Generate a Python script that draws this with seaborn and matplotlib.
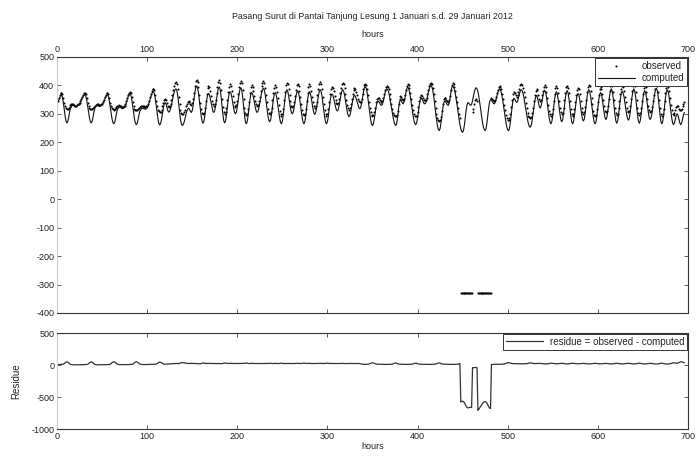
import numpy as np
import matplotlib
matplotlib.use("Agg")
import matplotlib.pyplot as plt
import seaborn as sns

# Hourly sea level, 1 - 29 Jan 2012, one row per day (24 values)
computed = [
    340, 349, 357, 363, 366, 359, 341, 317, 293, 275, 268, 274, 288, 306, 320, 326, 329, 330, 328, 325, 324, 326, 330, 331,
    335, 341, 349, 356, 362, 366, 367, 362, 348, 328, 307, 287, 273, 268, 274, 288, 306, 320, 326, 329, 330, 328, 326, 326,
    329, 331, 336, 344, 352, 360, 365, 367, 362, 348, 327, 305, 284, 270, 265, 270, 284, 301, 315, 320, 323, 324, 322, 319,
    318, 320, 323, 329, 339, 351, 361, 368, 370, 365, 350, 328, 304, 282, 267, 262, 267, 280, 297, 310, 315, 318, 320, 319,
    317, 316, 318, 320, 327, 337, 348, 359, 369, 376, 378, 372, 356, 332, 307, 283, 267, 261, 266, 281, 300, 320, 335, 340,
    335, 323, 311, 306, 309, 318, 331, 347, 363, 376, 385, 388, 382, 364, 338, 309, 281, 265, 259, 262, 270, 283, 296, 309,
    317, 320, 316, 309, 305, 311, 328, 352, 375, 392, 398, 391, 373, 347, 318, 292, 273, 267, 274, 293, 320, 346, 365, 372,
    368, 355, 339, 322, 309, 305, 311, 328, 350, 373, 389, 395, 387, 363, 332, 300, 276, 268, 275, 296, 323, 351, 371, 378,
    373, 358, 339, 320, 305, 300, 306, 323, 346, 369, 386, 392, 384, 360, 329, 297, 273, 265, 272, 293, 320, 348, 368, 375,
    370, 357, 340, 323, 310, 305, 309, 321, 338, 357, 374, 386, 390, 384, 368, 344, 318, 294, 278, 272, 279, 298, 324, 349,
    368, 375, 370, 354, 332, 308, 286, 270, 265, 273, 295, 325, 355, 377, 385, 379, 364, 343, 321, 306, 300, 305, 320, 340,
    360, 375, 380, 374, 358, 335, 310, 287, 271, 265, 273, 293, 322, 350, 370, 378, 373, 358, 338, 318, 303, 298, 304, 320,
    342, 363, 379, 385, 379, 362, 338, 312, 288, 271, 265, 272, 291, 318, 344, 363, 370, 366, 355, 340, 325, 314, 310, 315,
    329, 348, 366, 380, 385, 380, 367, 348, 327, 308, 295, 290, 295, 309, 328, 346, 360, 365, 362, 353, 342, 330, 321, 318,
    323, 338, 357, 377, 391, 396, 391, 376, 354, 328, 301, 279, 264, 259, 265, 281, 302, 324, 339, 345, 343, 338, 332, 330,
    334, 345, 359, 374, 384, 388, 385, 376, 361, 343, 324, 304, 286, 271, 262, 259, 268, 290, 319, 341, 350, 346, 339, 335,
    341, 355, 374, 388, 394, 390, 379, 361, 339, 317, 295, 277, 266, 262, 268, 285, 308, 332, 349, 355, 352, 345, 338, 335,
    338, 347, 360, 375, 388, 397, 400, 395, 381, 360, 334, 307, 281, 260, 246, 241, 248, 267, 293, 319, 338, 345, 343, 338,
    332, 330, 336, 353, 375, 392, 398, 395, 385, 370, 350, 328, 305, 283, 263, 248, 238, 235, 242, 261, 288, 314, 333, 340,
    337, 332, 330, 334, 346, 361, 377, 388, 392, 388, 378, 361, 340, 317, 293, 272, 255, 245, 241, 248, 268, 296, 323, 343,
    350, 348, 343, 338, 335, 339, 348, 362, 375, 385, 388, 384, 374, 358, 337, 315, 292, 271, 254, 244, 241, 249, 270, 298,
    327, 348, 355, 351, 344, 340, 344, 356, 369, 381, 385, 382, 372, 358, 339, 319, 299, 280, 266, 256, 253, 259, 274, 297,
    321, 344, 359, 365, 358, 342, 327, 320, 326, 342, 361, 377, 383, 377, 361, 337, 311, 287, 271, 265, 273, 293, 322, 350,
    370, 378, 371, 352, 325, 299, 279, 272, 279, 300, 327, 355, 375, 382, 374, 353, 324, 294, 273, 265, 272, 292, 319, 345,
    365, 372, 366, 348, 324, 299, 281, 275, 282, 303, 330, 358, 378, 385, 379, 362, 338, 312, 288, 271, 265, 272, 293, 320,
    348, 368, 375, 369, 351, 328, 304, 286, 280, 287, 307, 334, 361, 381, 388, 380, 358, 328, 297, 275, 267, 275, 295, 324,
    352, 372, 380, 375, 361, 340, 318, 297, 283, 278, 285, 306, 333, 361, 381, 388, 380, 358, 328, 297, 275, 267, 275, 296,
    325, 353, 374, 382, 375, 357, 331, 306, 287, 280, 286, 301, 323, 347, 369, 385, 390, 382, 359, 328, 296, 273, 265, 273,
    295, 325, 355, 377, 385, 379, 362, 337, 309, 285, 268, 262, 268, 281, 294, 300, 294, 281, 268, 262, 268, 281, 296, 305,
]

# -330 marks hours with no record from the gauge
observed = [
    346, 356, 365, 372, 375, 370, 356, 338, 326, 320, 317, 318, 321, 325, 330, 333, 334, 333, 331, 329, 328, 330, 333, 336,
    339, 345, 353, 361, 368, 373, 374, 369, 356, 339, 327, 321, 318, 317, 318, 321, 325, 329, 332, 333, 333, 331, 330, 331,
    333, 336, 341, 349, 358, 366, 372, 374, 369, 356, 338, 326, 320, 316, 315, 316, 319, 323, 327, 329, 330, 329, 327, 325,
    325, 326, 329, 335, 345, 357, 368, 375, 378, 373, 359, 340, 326, 318, 314, 312, 313, 316, 320, 324, 326, 327, 327, 326,
    325, 324, 326, 328, 335, 346, 358, 369, 379, 386, 389, 384, 368, 346, 327, 315, 309, 306, 308, 315, 326, 338, 349, 353,
    349, 338, 328, 324, 327, 336, 350, 367, 384, 399, 408, 411, 405, 386, 360, 333, 312, 302, 298, 299, 305, 315, 326, 336,
    342, 344, 340, 334, 331, 337, 352, 375, 398, 414, 420, 412, 394, 367, 338, 316, 302, 298, 304, 320, 344, 370, 390, 398,
    394, 380, 362, 345, 333, 329, 334, 350, 372, 396, 412, 418, 410, 385, 353, 324, 306, 300, 305, 322, 347, 376, 396, 404,
    398, 382, 362, 343, 329, 324, 330, 346, 370, 394, 410, 416, 408, 383, 352, 322, 302, 296, 301, 318, 343, 372, 393, 401,
    396, 381, 363, 346, 333, 328, 332, 344, 361, 381, 398, 410, 414, 408, 391, 366, 340, 318, 304, 300, 305, 322, 347, 373,
    392, 400, 396, 378, 355, 331, 311, 298, 294, 300, 318, 347, 378, 401, 410, 404, 388, 366, 344, 329, 323, 328, 343, 364,
    385, 400, 406, 399, 382, 358, 333, 312, 299, 295, 301, 318, 346, 375, 396, 404, 398, 382, 361, 341, 326, 321, 327, 343,
    366, 388, 404, 411, 404, 386, 361, 335, 313, 299, 294, 300, 316, 343, 369, 388, 396, 391, 379, 363, 348, 337, 333, 338,
    352, 372, 391, 405, 410, 404, 390, 370, 349, 331, 319, 314, 319, 333, 352, 371, 385, 390, 386, 377, 365, 353, 344, 341,
    340, 352, 369, 388, 401, 406, 401, 387, 366, 342, 320, 305, 297, 294, 297, 306, 322, 340, 352, 357, 355, 350, 345, 343,
    346, 356, 369, 383, 393, 398, 395, 386, 371, 354, 336, 318, 304, 296, 292, 291, 295, 310, 334, 353, 362, 358, 351, 347,
    352, 365, 383, 397, 404, 401, 390, 372, 351, 331, 313, 300, 293, 291, 294, 305, 325, 346, 361, 367, 364, 357, 350, 347,
    349, 357, 369, 384, 397, 406, 410, 405, 392, 371, 346, 321, 299, 285, 277, 274, 278, 290, 311, 334, 351, 357, 355, 350,
    344, 342, 347, 363, 384, 401, 408, 405, 395, 380, 361, 340, 319, 300, 286, -330, -330, -330, -330, -330, -330, -330, -330, -330,
    -330, -330, -330, -330, 306, 318, 336, 350, 352, 346, -330, -330, -330, -330, -330, -330, -330, -330, -330, -330, -330, -330, -330, -330,
    -330, 356, 352, 348, 346, 350, 359, 372, 385, 395, 399, 396, 386, 371, 351, 331, 312, 296, 285, 280, 279, 284, 300, 324,
    350, 369, 376, 372, 365, 361, 365, 377, 389, 400, 404, 401, 391, 377, 358, 339, 320, 304, 294, 288, 286, 290, 302, 322,
    344, 366, 382, 389, 383, 367, 352, 345, 350, 365, 382, 396, 400, 394, 378, 355, 330, 310, 298, 294, 300, 317, 344, 371,
    390, 398, 392, 373, 346, 322, 305, 299, 304, 322, 347, 374, 393, 399, 392, 372, 345, 318, 300, 293, 298, 316, 341, 366,
    385, 392, 387, 369, 345, 322, 306, 301, 306, 325, 350, 377, 396, 403, 397, 380, 357, 333, 311, 297, 292, 297, 316, 341,
    367, 386, 393, 388, 371, 349, 327, 311, 305, 311, 329, 354, 379, 398, 405, 398, 377, 349, 321, 302, 295, 301, 319, 345,
    370, 389, 397, 393, 380, 360, 340, 321, 309, 305, 310, 329, 353, 379, 397, 404, 397, 377, 349, 321, 302, 296, 302, 320,
    345, 371, 391, 399, 393, 376, 352, 329, 312, 306, 311, 325, 344, 366, 386, 401, 406, 399, 378, 349, 320, 300, 293, 299,
    318, 345, 372, 392, 400, 395, 380, 357, 332, 312, 300, 297, 302, 313, 323, 328, 326, 318, 312, 312, 318, 328, 336, 340,
]

title = "Pasang Surut di Pantai Tanjung Lesung 1 Januari s.d. 29 Januari 2012"
hour_ticks = [0, 100, 200, 300, 400, 500, 600, 700]
level_ticks = [500, 400, 300, 200, 100, 0, -100, -200, -300, -400]
residue_ticks = [500, 0, -500, -1000]

hours = np.arange(1, len(computed) + 1)
residue = np.array(observed) - np.array(computed)

sns.set_theme(style="white")
plt.rcParams["font.family"] = ["Liberation Sans", "DejaVu Sans"]
plt.rcParams["font.size"] = 6.5
plt.rcParams["axes.unicode_minus"] = False
text_color = "#222222"

fig = plt.figure(figsize=(6.99, 4.58), dpi=100)
ax = fig.add_axes([0.0815, 0.3166, 0.9027, 0.5590])
ax2 = fig.add_axes([0.0815, 0.0633, 0.9027, 0.2096])

# top panel: observed dots and computed tide
sns.scatterplot(x=hours, y=observed, ax=ax, color="black", marker="o", s=2.2,
                linewidth=0, label="observed")
sns.lineplot(x=hours, y=computed, ax=ax, color="#111111", linewidth=0.8,
             sort=False, estimator=None, label="computed")

# bottom panel: residue
sns.lineplot(x=hours, y=residue, ax=ax2, color="#333333", linewidth=0.9,
             sort=False, estimator=None, label="residue = observed - computed")

for a in (ax, ax2):
    a.set_xlim(0, 700)
    a.set_xticks(hour_ticks)
    a.tick_params(direction="in", length=3, width=0.6, top=True, right=True,
                  bottom=True, left=True, colors="#444444", labelcolor=text_color,
                  labelsize=6.5, pad=2)
    for side in ("top", "bottom", "right"):
        a.spines[side].set_color("#333333")
        a.spines[side].set_linewidth(0.8)
    a.spines["left"].set_color("#cfcfcf")
    a.spines["left"].set_linewidth(0.8)

ax.set_ylim(-400, 500)
ax.set_yticks(level_ticks)
ax.tick_params(labeltop=True, labelbottom=False)
ax.xaxis.set_label_position("top")
ax.set_xlabel("hours", fontsize=6.5, color=text_color, labelpad=6)
ax.set_ylabel("")

ax2.set_ylim(-1000, 500)
ax2.set_yticks(residue_ticks)
ax2.set_xlabel("hours", fontsize=6.5, color=text_color, labelpad=1)
ax2.set_ylabel("Residue", fontsize=7, color=text_color, labelpad=7)

handles, labels = ax.get_legend_handles_labels()
order = [labels.index("observed"), labels.index("computed")]
leg = ax.legend([handles[i] for i in order], [labels[i] for i in order],
                loc="upper right", borderaxespad=0.1, fontsize=7,
                handlelength=3.8, handletextpad=0.7, borderpad=0.3,
                labelspacing=0.25, fancybox=False, framealpha=1, edgecolor="#333333")
leg.get_frame().set_linewidth(0.7)

leg2 = ax2.legend(loc="upper right", borderaxespad=0.1, fontsize=7,
                  handlelength=3.8, handletextpad=0.7, borderpad=0.3,
                  fancybox=False, framealpha=1, edgecolor="#333333")
leg2.get_frame().set_linewidth(0.7)

fig.text(0.533, 0.965, title, ha="center", va="center", fontsize=6.4, color=text_color)

fig.savefig("out.png", dpi=100)
